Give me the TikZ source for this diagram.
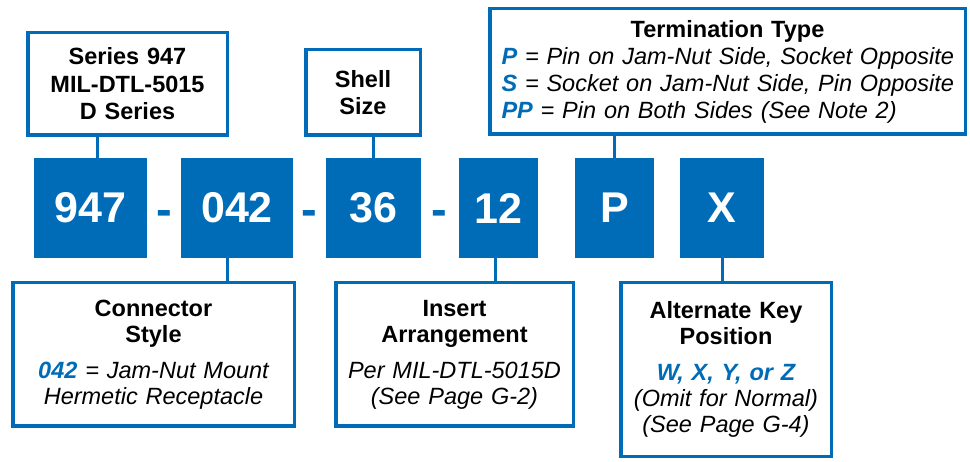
\documentclass[tikz,border=0pt]{standalone}
\usepackage{fontspec}
\setmainfont{Liberation Sans}
\definecolor{blu}{RGB}{0,108,183}
\begin{document}
\begin{tikzpicture}[x=1pt,y=-1pt,
  lbl/.style={draw=blu, line width=3.5pt, fill=white, inner sep=0pt, align=center,
              font=\fontsize{23.5}{26}\selectfont},
  code/.style={fill=blu, text=white, inner sep=0pt, font=\fontsize{43}{43}\selectfont\bfseries},
  dsh/.style={text=blu, inner sep=0pt, anchor=base, font=\fontsize{47}{47}\selectfont\bfseries},
  link/.style={draw=blu, line width=3pt}]
\useasboundingbox (0,0) rectangle (970,462);

% top label boxes
\node[lbl, minimum width=199.5pt, minimum height=102.5pt, text width=195pt,
      font=\fontsize{23.5}{27.5}\selectfont\bfseries] (series) at (127.5,84)
  {Series 947\\MIL-DTL-5015\\D Series};
\node[lbl, minimum width=114.5pt, minimum height=85.5pt, text width=110pt,
      font=\fontsize{23.5}{27}\selectfont\bfseries] (shell) at (363,92.5)
  {Shell\\Size};
\node[lbl, minimum width=475.5pt, minimum height=125.5pt, text width=470pt,
      font=\fontsize{23.5}{27}\selectfont] (term) at (727.5,71.5)
  {{\bfseries Termination Type}\\
   \makebox[452pt][l]{\itshape{\color{blu}\bfseries P} = Pin on Jam-Nut Side, Socket Opposite}\\
   \makebox[452pt][l]{\itshape{\color{blu}\bfseries S} = Socket on Jam-Nut Side, Pin Opposite}\\
   \makebox[452pt][l]{\itshape{\color{blu}\bfseries PP} = Pin on Both Sides (See Note 2)}};

% code boxes
\node[code, minimum width=113pt, minimum height=100pt] (c947) at (90.5,208) {947};
\node[code, minimum width=112pt, minimum height=100pt] (c042) at (237,208) {042};
\node[code, minimum width=95pt, minimum height=100pt] (c36) at (373.5,208) {36};
\node[code, minimum width=79pt, minimum height=100pt] (c12) at (498.5,208) {12};
\node[code, minimum width=79pt, minimum height=100pt] (cP) at (614.5,208) {P};
\node[code, minimum width=84pt, minimum height=100pt] (cX) at (722,208) {X};

% separators
\node[dsh] (d1) at (164.5,226) {-};
\node[dsh] (d2) at (309.5,226) {-};
\node[dsh] (d3) at (439.5,226) {-};

% bottom label boxes
\node[lbl, minimum width=281.5pt, minimum height=143.5pt, text width=275pt] (cstyle) at (153.5,354.5)
  {{\bfseries Connector\\Style}\\[10pt]
   {\itshape{\color{blu}\bfseries 042} = Jam-Nut Mount\\Hermetic Receptacle}};
\node[lbl, minimum width=237.5pt, minimum height=143.5pt, text width=232pt] (insert) at (454.5,354.5)
  {{\bfseries Insert\\Arrangement}\\[10pt]
   {\itshape Per MIL-DTL-5015D\\(See Page G-2)}};
\node[lbl, minimum width=210.5pt, minimum height=173.5pt, text width=205pt] (alt) at (726,369.5)
  {{\bfseries Alternate Key\\Position}\\[10pt]
   {\itshape{\color{blu}\bfseries W, X, Y, or Z}\\(Omit for Normal)\\(See Page G-4)}};

% connector x positions
\coordinate (x947) at (97,0);
\coordinate (x042) at (227,0);
\coordinate (x12) at (495,0);

\draw[link] (series.south -| x947) -- (c947.north -| x947);
\draw[link] (shell.south -| c36.north) -- (c36.north);
\draw[link] (term.south -| cP.north) -- (cP.north);
\draw[link] (c042.south -| x042) -- (cstyle.north -| x042);
\draw[link] (c12.south -| x12) -- (insert.north -| x12);
\draw[link] (cX.south) -- (alt.north -| cX.south);
\end{tikzpicture}
\end{document}
